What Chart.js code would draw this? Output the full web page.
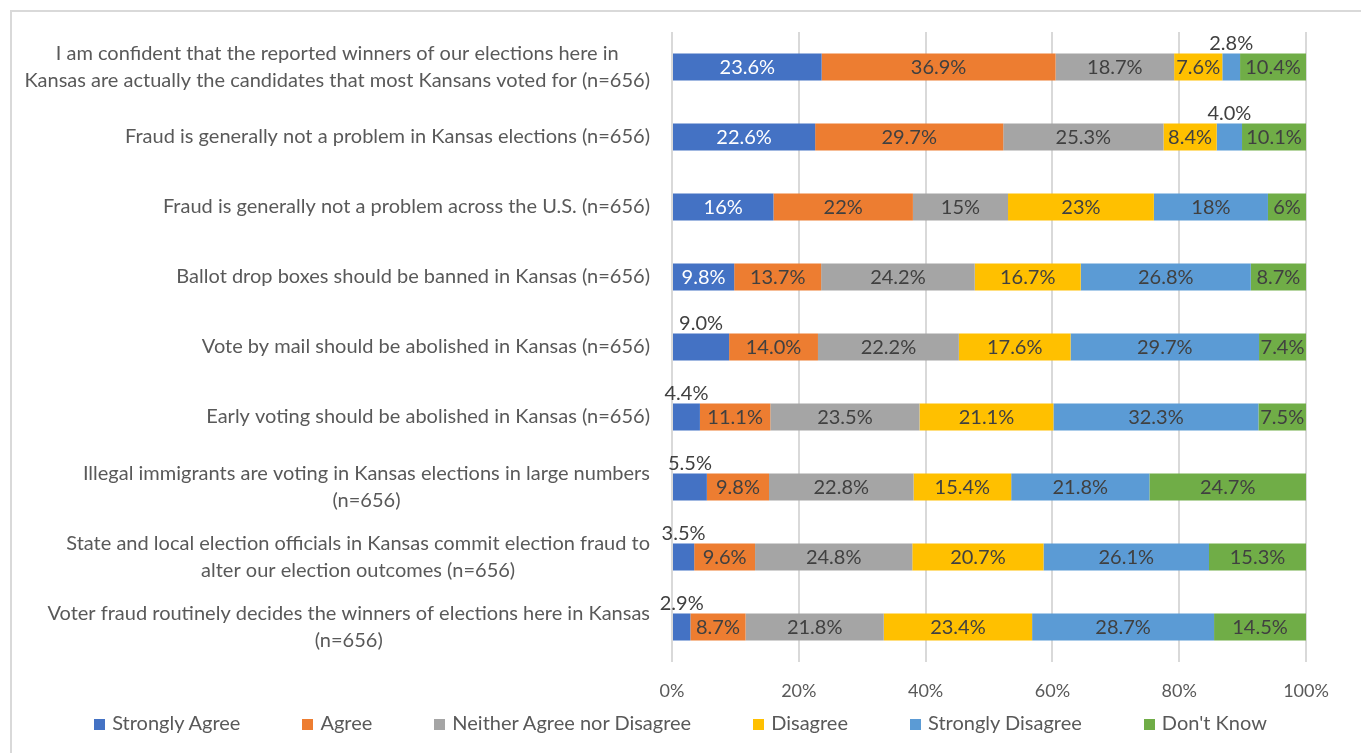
<!DOCTYPE html>
<html lang="en">
<head>
  <meta charset="UTF-8" />
  <title>Kansas election attitudes</title>
  <script src="https://cdn.jsdelivr.net/npm/chart.js"></script>
  <style>
    body { margin: 0; background: #fff; }
    .wrap { position: relative; width: 1361px; height: 753px; overflow: hidden; background: #fff; }
    .frame {
      position: absolute; left: 10px; top: 10px; width: 1400px; height: 800px;
      border-left: 2px solid #d9d9d9; border-top: 2px solid #d9d9d9;
    }
    canvas { position: absolute; left: 0; top: 0; }
    .legend {
      position: absolute; left: 0; top: 709px; width: 1361px;
      display: flex; justify-content: center; gap: 62px;
      font: 20px Lato, sans-serif; color: #595959; line-height: 26px;
    }
    .legend .box { display: inline-block; width: 11px; height: 11px; margin-right: 7px; }
  </style>
</head>
<body>
  <div class="wrap">
    <div class="frame"></div>
    <canvas id="chart" width="1361" height="753"></canvas>
    <div class="legend" id="legend"></div>
  </div>

  <script>
    // questions, top to bottom (line breaks as in the source)
    const questions = [
      ["I am confident that the reported winners of our elections here in", "Kansas are actually the candidates that most Kansans voted for (n=656)"],
      ["Fraud is generally not a problem in Kansas elections (n=656)"],
      ["Fraud is generally not a problem across the U.S. (n=656)"],
      ["Ballot drop boxes should be banned in Kansas (n=656)"],
      ["Vote by mail should be abolished in Kansas (n=656)"],
      ["Early voting should be abolished in Kansas (n=656)"],
      ["Illegal immigrants are voting in Kansas elections in large numbers", "(n=656)"],
      ["State and local election officials in Kansas commit election fraud to", "alter our election outcomes (n=656)"],
      ["Voter fraud routinely decides the winners of elections here in Kansas", "(n=656)"]
    ];

    const seriesNames = ["Strongly Agree", "Agree", "Neither Agree nor Disagree", "Disagree", "Strongly Disagree", "Don't Know"];

    const stronglyAgree    = [23.6, 22.6, 16,  9.8,  9.0,  4.4,  5.5,  3.5,  2.9];
    const agree            = [36.9, 29.7, 22, 13.7, 14.0, 11.1,  9.8,  9.6,  8.7];
    const neither          = [18.7, 25.3, 15, 24.2, 22.2, 23.5, 22.8, 24.8, 21.8];
    const disagree         = [ 7.6,  8.4, 23, 16.7, 17.6, 21.1, 15.4, 20.7, 23.4];
    const stronglyDisagree = [ 2.8,  4.0, 18, 26.8, 29.7, 32.3, 21.8, 26.1, 28.7];
    const dontKnow         = [10.4, 10.1,  6,  8.7,  7.4,  7.5, 24.7, 15.3, 14.5];

    // decimals shown in the labels of each row
    const labelDigits = [1, 1, 0, 1, 1, 1, 1, 1, 1];

    const xTicks = [0, 20, 40, 60, 80, 100];

    const colors = ['#4472C4', '#ED7D31', '#A5A5A5', '#FFC000', '#5B9BD5', '#70AD47'];
    const seriesValues = [stronglyAgree, agree, neither, disagree, stronglyDisagree, dontKnow];

    // labels that sit above the bar instead of inside it: [series, row]
    const labelsAbove = [[4, 0], [4, 1], [0, 4], [0, 5], [0, 6], [0, 7], [0, 8]];

    const FONT = 'Lato, sans-serif';

    // 100% stacked: each row is shown as a share of its total
    const rowTotals = questions.map((q, i) => seriesValues.reduce((s, arr) => s + arr[i], 0));

    const datasets = seriesNames.map((name, s) => ({
      label: name,
      data: seriesValues[s].map((v, i) => v / rowTotals[i] * 100),
      backgroundColor: colors[s],
      borderWidth: 0,
      categoryPercentage: 1,
      barPercentage: 0.386
    }));

    const segmentLabels = {
      id: 'segmentLabels',
      afterDatasetsDraw(chart) {
        const ctx = chart.ctx;
        ctx.save();
        ctx.font = '20px ' + FONT;
        ctx.textAlign = 'center';
        chart.data.datasets.forEach((ds, s) => {
          chart.getDatasetMeta(s).data.forEach((bar, i) => {
            const p = bar.getProps(['x', 'y', 'base', 'height'], true);
            const text = seriesValues[s][i].toFixed(labelDigits[i]) + '%';
            const x = (p.x + p.base) / 2;
            const above = labelsAbove.some(a => a[0] === s && a[1] === i);
            if (above) {
              ctx.fillStyle = '#404040';
              ctx.textBaseline = 'bottom';
              ctx.fillText(text, x, p.y - p.height / 2);
            } else {
              ctx.fillStyle = s === 0 ? '#ffffff' : '#404040';
              ctx.textBaseline = 'middle';
              ctx.fillText(text, x, p.y + 1);
            }
          });
        });
        ctx.restore();
      }
    };

    // category labels: block right-aligned to the axis, lines centred inside it
    const categoryLabels = {
      id: 'categoryLabels',
      afterDraw(chart) {
        const ctx = chart.ctx;
        const yScale = chart.scales.y;
        const right = chart.chartArea.left - 22;
        ctx.save();
        ctx.font = '20px ' + FONT;
        ctx.fillStyle = '#595959';
        ctx.textAlign = 'center';
        ctx.textBaseline = 'middle';
        questions.forEach((lines, i) => {
          const w = Math.max(...lines.map(l => ctx.measureText(l).width));
          const cy = yScale.getPixelForValue(i);
          lines.forEach((l, k) => {
            ctx.fillText(l, right - w / 2, cy + (k - (lines.length - 1) / 2) * 27);
          });
        });
        ctx.restore();
      }
    };

    new Chart(document.getElementById('chart'), {
      type: 'bar',
      data: { labels: questions.map(q => q.join(' ')), datasets: datasets },
      options: {
        indexAxis: 'y',
        responsive: false,
        animation: false,
        layout: { padding: { top: 32, right: 55, bottom: 0, left: 0 } },
        plugins: {
          legend: { display: false },
          tooltip: { enabled: false }
        },
        scales: {
          x: {
            stacked: true,
            min: 0,
            max: 100,
            afterBuildTicks: scale => { scale.ticks = xTicks.map(v => ({ value: v })); },
            afterFit: scale => { scale.height = 91; },
            ticks: {
              callback: v => v + '%',
              color: '#595959',
              font: { family: FONT, size: 18 },
              padding: 18
            },
            grid: { color: '#d9d9d9', lineWidth: 2, drawTicks: false },
            border: { display: false }
          },
          y: {
            stacked: true,
            afterFit: scale => { scale.width = 672; },
            ticks: { display: false },
            grid: { display: false, drawTicks: false },
            border: { display: false }
          }
        }
      },
      plugins: [segmentLabels, categoryLabels]
    });

    const legend = document.getElementById('legend');
    seriesNames.forEach((name, s) => {
      const item = document.createElement('span');
      item.innerHTML = '<span class="box" style="background:' + colors[s] + '"></span>';
      item.appendChild(document.createTextNode(name));
      legend.appendChild(item);
    });
  </script>
</body>
</html>
